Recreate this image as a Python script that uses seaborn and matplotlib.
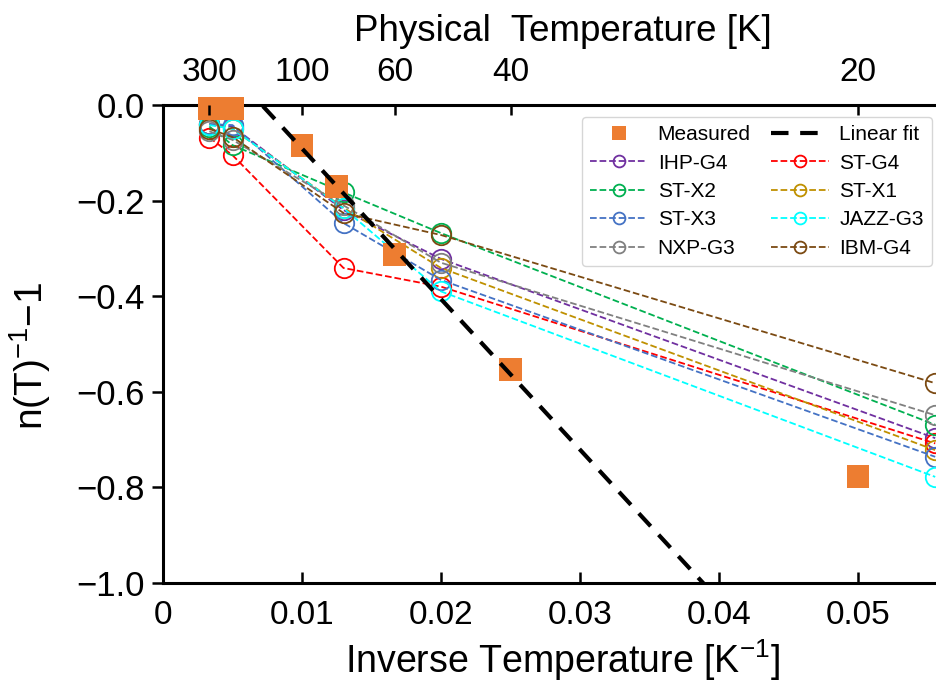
import numpy as np
import pandas as pd
import matplotlib
matplotlib.use("Agg")
import matplotlib.pyplot as plt
from matplotlib.lines import Line2D
import seaborn as sns

# ---- data -------------------------------------------------------------
device_temps = [300, 200, 77, 50, 18]          # K
ihp_g4  = [-0.040, -0.045, -0.220, -0.322, -0.697]
st_g4   = [-0.068, -0.105, -0.341, -0.380, -0.708]
st_x2   = [-0.045, -0.084, -0.183, -0.268, -0.669]
st_x1   = [-0.040, -0.050, -0.215, -0.341, -0.722]
st_x3   = [-0.040, -0.042, -0.247, -0.366, -0.736]
jazz_g3 = [-0.042, -0.050, -0.216, -0.390, -0.778]
nxp_g3  = [-0.055, -0.073, -0.210, -0.330, -0.649]
ibm_g4  = [-0.050, -0.067, -0.226, -0.272, -0.582]

measured_temps = [300, 200, 100, 80, 60, 40, 20]
measured_vals = [-0.008, -0.008, -0.084, -0.171, -0.312, -0.554, -0.778]

fit_slope = -31.5
fit_intercept = 0.224

top_ticks_K = [300, 100, 60, 40, 20]
x_ticks = [0, 0.01, 0.02, 0.03, 0.04, 0.05]
x_tick_labels = ["0", "0.01", "0.02", "0.03", "0.04", "0.05"]
y_ticks = [0.0, -0.2, -0.4, -0.6, -0.8, -1.0]

series = {
    "IHP-G4": (ihp_g4, "#7030A0"),
    "ST-G4": (st_g4, "#FF0000"),
    "ST-X2": (st_x2, "#00B050"),
    "ST-X1": (st_x1, "#BF9000"),
    "ST-X3": (st_x3, "#4472C4"),
    "JAZZ-G3": (jazz_g3, "#00FFFF"),
    "NXP-G3": (nxp_g3, "#808080"),
    "IBM-G4": (ibm_g4, "#7B4A12"),
}
measured_color = "#ED7D31"

# ---- style ------------------------------------------------------------
sns.set_style("ticks")
plt.rcParams["font.family"] = ["Liberation Sans", "DejaVu Sans"]
plt.rcParams["mathtext.fontset"] = "custom"
plt.rcParams["mathtext.rm"] = "Liberation Sans"
plt.rcParams["mathtext.it"] = "Liberation Sans:italic"
plt.rcParams["mathtext.default"] = "regular"
for key in ["text.color", "axes.labelcolor", "xtick.color", "ytick.color",
            "axes.edgecolor"]:
    plt.rcParams[key] = "black"

fig = plt.figure(figsize=(9.36, 6.89), dpi=100)
ax = fig.add_axes([163 / 936, 1 - 583 / 689, (962 - 163) / 936, (583 - 105) / 689])

x_max = 799 / 13900
device_x = 1.0 / np.array(device_temps, dtype=float)

# device curves
for name, (vals, col) in series.items():
    df = pd.DataFrame({"invT": device_x, "val": vals})
    sns.lineplot(data=df, x="invT", y="val", ax=ax, color=col, linestyle="--",
                 linewidth=1.3, marker="o", markersize=14, markerfacecolor="none",
                 markeredgecolor=col, markeredgewidth=1.3, zorder=2,
                 sort=False, legend=False)

# measured points
mdf = pd.DataFrame({"invT": 1.0 / np.array(measured_temps, dtype=float),
                    "val": measured_vals})
sns.scatterplot(data=mdf, x="invT", y="val", ax=ax, marker="s", s=272,
                color=measured_color, edgecolor="none", linewidth=0,
                zorder=3, clip_on=False, legend=False)

# linear fit
fit_dash = (4.2, 2.8)
fit_x = np.array([0.0, x_max])
fdf = pd.DataFrame({"invT": fit_x, "val": fit_intercept + fit_slope * fit_x})
sns.lineplot(data=fdf, x="invT", y="val", ax=ax, color="black", linewidth=3,
             dashes=[fit_dash], style=np.zeros(len(fdf)), zorder=4, legend=False)

ax.set_xlim(0, x_max)
ax.set_ylim(-1.0, 0.0)
ax.set_xticks(x_ticks)
ax.set_xticklabels(x_tick_labels)
ax.set_yticks(y_ticks)
ax.set_yticklabels([f"{v:.1f}".replace("-", "\u2212") for v in y_ticks])
ax.tick_params(axis="x", direction="in", length=8, width=1.8, labelsize=24, pad=12)
ax.tick_params(axis="y", direction="out", length=8, width=1.8, labelsize=25, pad=5)
ax.set_xlabel("Inverse Temperature [K$^{-1}$]", fontsize=27, labelpad=5)
ax.set_ylabel("n(T)$^{-1}$\u22121", fontsize=28)
ax.yaxis.set_label_coords(-0.138, 0.475)
for side in ["left", "bottom", "top"]:
    ax.spines[side].set_linewidth(2.2)
ax.spines["right"].set_visible(False)

# top axis in physical temperature
ax2 = ax.twiny()
ax2.set_xlim(ax.get_xlim())
ax2.set_xticks([1.0 / t for t in top_ticks_K])
ax2.set_xticklabels([str(t) for t in top_ticks_K])
ax2.tick_params(axis="x", direction="in", length=7, width=1.8, labelsize=24, pad=12)
ax2.set_xlabel("Physical  Temperature [K]", fontsize=26.5, labelpad=12)
for side in ["left", "bottom", "top", "right"]:
    ax2.spines[side].set_visible(False)

# legend
def dev_handle(col):
    return Line2D([], [], color=col, linestyle="--", linewidth=1.3, marker="o",
                  markersize=8.5, markerfacecolor="none", markeredgecolor=col,
                  markeredgewidth=1.3)

h_meas = Line2D([], [], linestyle="none", marker="s", markersize=9.5,
                color=measured_color, markeredgewidth=0)
h_fit = Line2D([], [], color="black", linewidth=3, linestyle=(0, fit_dash))
col1 = ["IHP-G4", "ST-X2", "ST-X3", "NXP-G3"]
col2 = ["ST-G4", "ST-X1", "JAZZ-G3", "IBM-G4"]
handles = [h_meas] + [dev_handle(series[n][1]) for n in col1] + \
          [h_fit] + [dev_handle(series[n][1]) for n in col2]
labels = ["Measured"] + col1 + ["Linear fit"] + col2
leg = ax2.legend(handles, labels, ncol=2, loc="upper right",
                 bbox_to_anchor=(932 / 936, 1 - 117 / 689),
                 bbox_transform=fig.transFigure, fontsize=15,
                 handlelength=2.75, handletextpad=0.5, columnspacing=1.0,
                 labelspacing=0.45, borderpad=0.4, borderaxespad=0,
                 frameon=True, fancybox=True)
leg.get_frame().set_edgecolor("#cccccc")
leg.get_frame().set_linewidth(1.0)

fig.savefig("out.png", dpi=100)
